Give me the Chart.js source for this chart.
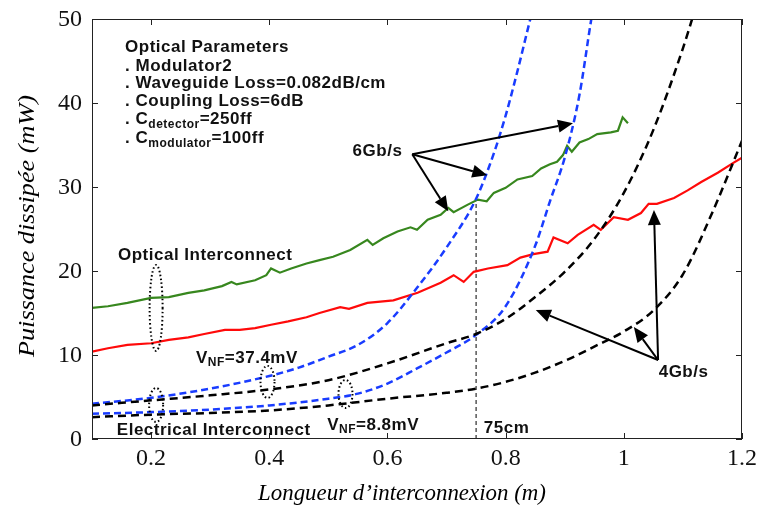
<!DOCTYPE html>
<html>
<head>
    <title>Puissance dissipée vs longueur d'interconnexion</title>
    <!-- Include Chart.js library -->
    <script src="https://cdn.jsdelivr.net/npm/chart.js@4.4.1/dist/chart.umd.min.js"></script>
    <style>
        body { margin: 0; background: #fff; }
    </style>
</head>
<body>
    <canvas id="myChart" width="758" height="506"></canvas>

    <script>
        // tick labels
        var xTicks = [0.2, 0.4, 0.6, 0.8, 1, 1.2];
        var yTicks = [0, 10, 20, 30, 40, 50];

        // optical interconnect, 6Gb/s (green, measured)
        var greenX = [0.100, 0.127, 0.160, 0.200, 0.230, 0.263, 0.290, 0.320, 0.336, 0.345, 0.376, 0.395, 0.403, 0.418, 0.437, 0.463, 0.485, 0.508, 0.537, 0.566, 0.575, 0.593, 0.617, 0.639, 0.650, 0.668, 0.690, 0.703, 0.712, 0.736, 0.753, 0.768, 0.780, 0.800, 0.820, 0.845, 0.860, 0.875, 0.887, 0.897, 0.904, 0.912, 0.925, 0.940, 0.955, 0.978, 0.990, 0.998, 1.007];
        var greenY = [15.6, 15.8, 16.2, 16.8, 16.9, 17.4, 17.7, 18.2, 18.7, 18.4, 18.9, 19.5, 20.3, 19.8, 20.3, 20.9, 21.3, 21.7, 22.5, 23.7, 23.1, 23.9, 24.7, 25.2, 24.9, 26.1, 26.7, 27.5, 27.0, 27.9, 28.5, 28.3, 29.3, 29.9, 30.9, 31.3, 32.2, 32.7, 33.0, 33.8, 34.9, 34.2, 35.3, 35.7, 36.3, 36.5, 36.7, 38.3, 37.6];

        // optical interconnect, 4Gb/s (red)
        var redX = [0.100, 0.127, 0.160, 0.200, 0.230, 0.263, 0.290, 0.325, 0.350, 0.376, 0.403, 0.432, 0.463, 0.485, 0.520, 0.535, 0.566, 0.610, 0.651, 0.690, 0.712, 0.729, 0.746, 0.770, 0.803, 0.825, 0.847, 0.871, 0.881, 0.905, 0.922, 0.949, 0.961, 0.983, 1.007, 1.029, 1.042, 1.056, 1.085, 1.108, 1.131, 1.159, 1.186, 1.200];
        var redY = [10.4, 10.8, 11.2, 11.4, 11.8, 12.1, 12.5, 13.0, 13.0, 13.2, 13.6, 14.0, 14.5, 15.0, 15.7, 15.5, 16.2, 16.5, 17.4, 18.6, 19.5, 18.7, 19.9, 20.3, 20.7, 21.6, 22.0, 22.3, 24.0, 23.3, 24.3, 25.5, 24.9, 26.4, 26.1, 26.9, 28.0, 28.0, 28.7, 29.6, 30.6, 31.7, 32.9, 33.5];

        // electrical interconnect, 6Gb/s (blue dashed), VNF=37.4mV and VNF=8.8mV
        var blueHiX = [0.10, 0.20, 0.30, 0.40, 0.45, 0.50, 0.55, 0.60, 0.65, 0.70, 0.75, 0.78, 0.80, 0.82, 0.84, 0.86];
        var blueHiY = [4.2, 4.9, 6.0, 7.5, 8.5, 9.8, 11.2, 13.8, 18.0, 22.8, 28.6, 34.0, 38.5, 43.8, 49.5, 55.0];
        var blueLoX = [0.10, 0.20, 0.30, 0.40, 0.50, 0.55, 0.60, 0.65, 0.70, 0.75, 0.80, 0.85, 0.875, 0.90, 0.925, 0.945, 0.96];
        var blueLoY = [3.0, 3.2, 3.5, 4.0, 4.8, 5.4, 6.6, 8.4, 10.3, 12.4, 15.8, 23.0, 28.3, 33.5, 41.0, 50.0, 56.0];

        // electrical interconnect, 4Gb/s (black dashed), VNF=37.4mV and VNF=8.8mV
        var blackHiX = [0.10, 0.20, 0.30, 0.40, 0.50, 0.60, 0.70, 0.75, 0.80, 0.85, 0.90, 0.95, 1.00, 1.05, 1.10, 1.12];
        var blackHiY = [4.0, 4.6, 5.2, 5.9, 7.0, 9.0, 11.4, 12.5, 14.3, 16.9, 19.9, 23.8, 29.3, 36.8, 46.5, 51.0];
        var blackLoX = [0.10, 0.20, 0.30, 0.40, 0.50, 0.60, 0.70, 0.75, 0.80, 0.85, 0.90, 0.95, 1.00, 1.05, 1.10, 1.15, 1.20];
        var blackLoY = [2.6, 2.9, 3.1, 3.4, 4.0, 4.8, 5.5, 6.0, 6.8, 7.9, 9.3, 11.0, 12.8, 15.3, 19.6, 27.0, 35.5];

        // 75cm marker
        var markX = [0.75, 0.75];
        var markY = [0, 28.5];

        function pairs(xs, ys) {
            return xs.map(function (x, i) { return { x: x, y: ys[i] }; });
        }

        // text notes (parts with sub:true are subscripts), anchored in data units
        var notes = [
            { x: 0.156, y: 46.6, parts: [{ t: 'Optical Parameters' }] },
            { x: 0.156, y: 44.4, parts: [{ t: '. Modulator2' }] },
            { x: 0.156, y: 42.3, parts: [{ t: '. Waveguide Loss=0.082dB/cm' }] },
            { x: 0.156, y: 40.2, parts: [{ t: '. Coupling Loss=6dB' }] },
            { x: 0.156, y: 38.0, parts: [{ t: '. C' }, { t: 'detector', sub: true }, { t: '=250ff' }] },
            { x: 0.156, y: 35.8, parts: [{ t: '. C' }, { t: 'modulator', sub: true }, { t: '=100ff' }] },
            { x: 0.541, y: 34.2, parts: [{ t: '6Gb/s' }] },
            { x: 0.144, y: 21.9, parts: [{ t: 'Optical Interconnect' }] },
            { x: 0.276, y: 9.64, parts: [{ t: 'V' }, { t: 'NF', sub: true }, { t: '=37.4mV' }] },
            { x: 0.498, y: 1.67, parts: [{ t: 'V' }, { t: 'NF', sub: true }, { t: '=8.8mV' }] },
            { x: 0.142, y: 1.07, parts: [{ t: 'Electrical Interconnect' }] },
            { x: 0.763, y: 1.31, parts: [{ t: '75cm' }] },
            { x: 1.059, y: 7.98, parts: [{ t: '4Gb/s' }] }
        ];

        var arrows = [
            { from: [0.642, 33.9], to: [[0.914, 37.6], [0.769, 31.4], [0.703, 27.1]] },
            { from: [1.058, 9.4], to: [[0.851, 15.36], [1.017, 13.33], [1.051, 27.26]] }
        ];

        var ellipses = [
            { x: 0.2085, y: 15.6, rx: 6.5, ry: 43 },
            { x: 0.397, y: 6.8, rx: 7, ry: 16 },
            { x: 0.2085, y: 4.05, rx: 7, ry: 17 },
            { x: 0.529, y: 5.36, rx: 7, ry: 14 }
        ];

        var serif = '"Liberation Serif", "DejaVu Serif", serif';
        var sans = '"Liberation Sans", Arial, sans-serif';

        function drawParts(ctx, parts, x, y) {
            ctx.textBaseline = 'middle';
            ctx.textAlign = 'left';
            ctx.letterSpacing = '0.5px';
            parts.forEach(function (p) {
                if (p.sub) {
                    ctx.font = 'bold 12px ' + sans;
                    ctx.fillText(p.t, x, y + 5);
                } else {
                    ctx.font = 'bold 17px ' + sans;
                    ctx.fillText(p.t, x, y);
                }
                x += ctx.measureText(p.t).width;
            });
            ctx.letterSpacing = '0px';
        }

        // draw text stretched to a given width (the original uses a wide serif)
        function fitText(ctx, text, x, y, width) {
            var w = ctx.measureText(text).width;
            ctx.save();
            ctx.translate(x, y);
            ctx.scale(width / w, 1);
            ctx.fillText(text, 0, 0);
            ctx.restore();
        }

        function drawArrow(ctx, x1, y1, x2, y2) {
            var a = Math.atan2(y2 - y1, x2 - x1);
            var hl = 15, hw = 6.5;
            var bx = x2 - hl * Math.cos(a), by = y2 - hl * Math.sin(a);
            ctx.beginPath();
            ctx.moveTo(x1, y1);
            ctx.lineTo(bx, by);
            ctx.stroke();
            ctx.beginPath();
            ctx.moveTo(x2, y2);
            ctx.lineTo(bx + hw * Math.sin(a), by - hw * Math.cos(a));
            ctx.lineTo(bx - hw * Math.sin(a), by + hw * Math.cos(a));
            ctx.closePath();
            ctx.fill();
        }

        var decorations = {
            id: 'decorations',
            afterDatasetsDraw: function (chart) {
                var ctx = chart.ctx;
                var xs = chart.scales.x, ys = chart.scales.y;
                var ca = chart.chartArea;
                ctx.save();

                // box and inward ticks (matlab style)
                ctx.strokeStyle = '#222';
                ctx.lineWidth = 1;
                ctx.setLineDash([]);
                ctx.strokeRect(ca.left + 0.5, ca.top + 0.5, ca.right - ca.left - 1, ca.bottom - ca.top - 1);
                ctx.beginPath();
                xTicks.forEach(function (v) {
                    var px = Math.round(xs.getPixelForValue(v)) + 0.5;
                    ctx.moveTo(px, ca.bottom); ctx.lineTo(px, ca.bottom - 6);
                    ctx.moveTo(px, ca.top); ctx.lineTo(px, ca.top + 6);
                });
                yTicks.forEach(function (v) {
                    var py = Math.round(ys.getPixelForValue(v)) + 0.5;
                    ctx.moveTo(ca.left, py); ctx.lineTo(ca.left + 6, py);
                    ctx.moveTo(ca.right, py); ctx.lineTo(ca.right - 6, py);
                });
                ctx.stroke();

                // tick labels
                ctx.fillStyle = '#111';
                ctx.font = '24px ' + serif;
                ctx.textBaseline = 'middle';
                ctx.textAlign = 'center';
                xTicks.forEach(function (v) {
                    ctx.fillText(String(v), xs.getPixelForValue(v), ca.bottom + 20);
                });
                ctx.textAlign = 'right';
                yTicks.forEach(function (v) {
                    ctx.fillText(String(v), ca.left - 10, ys.getPixelForValue(v) + 1);
                });

                // dotted ellipses
                ctx.strokeStyle = '#000';
                ctx.lineWidth = 2;
                ctx.setLineDash([1.5, 2.5]);
                ellipses.forEach(function (e) {
                    ctx.beginPath();
                    ctx.ellipse(xs.getPixelForValue(e.x), ys.getPixelForValue(e.y), e.rx, e.ry, 0, 0, Math.PI * 2);
                    ctx.stroke();
                });

                // arrows
                ctx.setLineDash([]);
                ctx.lineWidth = 2;
                ctx.fillStyle = '#000';
                arrows.forEach(function (a) {
                    var fx = xs.getPixelForValue(a.from[0]), fy = ys.getPixelForValue(a.from[1]);
                    a.to.forEach(function (t) {
                        drawArrow(ctx, fx, fy, xs.getPixelForValue(t[0]), ys.getPixelForValue(t[1]));
                    });
                });

                // notes
                ctx.fillStyle = '#111';
                notes.forEach(function (n) {
                    drawParts(ctx, n.parts, xs.getPixelForValue(n.x), ys.getPixelForValue(n.y));
                });

                // axis titles
                ctx.fillStyle = '#000';
                ctx.font = 'italic 23px ' + serif;
                ctx.textAlign = 'center';
                ctx.textBaseline = 'middle';
                fitText(ctx, "Longueur d\u2019interconnexion (m)", 402, 494, 288);
                ctx.translate(28, 226);
                ctx.rotate(-Math.PI / 2);
                fitText(ctx, 'Puissance dissipée (mW)', 0, 0, 262);
                ctx.restore();
            }
        };

        function curve(xs, ys, color, dash) {
            return {
                data: pairs(xs, ys),
                borderColor: color,
                borderWidth: 2.5,
                borderDash: dash,
                pointRadius: 0,
                fill: false,
                cubicInterpolationMode: 'monotone'
            };
        }

        function wiggle(xs, ys, color) {
            return {
                data: pairs(xs, ys),
                borderColor: color,
                borderWidth: 2.2,
                pointRadius: 0,
                fill: false,
                tension: 0
            };
        }

        var ctx = document.getElementById('myChart').getContext('2d');
        var myChart = new Chart(ctx, {
            type: 'line',
            data: {
                datasets: [
                    curve(blackLoX, blackLoY, '#000', [8, 5]),
                    curve(blackHiX, blackHiY, '#000', [8, 5]),
                    curve(blueLoX, blueLoY, 'rgb(25,60,255)', [7, 4]),
                    curve(blueHiX, blueHiY, 'rgb(25,60,255)', [7, 4]),
                    wiggle(redX, redY, 'rgb(255,10,10)'),
                    wiggle(greenX, greenY, 'rgb(55,135,30)'),
                    {
                        data: pairs(markX, markY),
                        borderColor: '#000',
                        borderWidth: 1,
                        borderDash: [4, 3],
                        pointRadius: 0,
                        fill: false
                    }
                ]
            },
            options: {
                responsive: false,
                animation: false,
                devicePixelRatio: 1,
                layout: { padding: { top: 19, right: 16, left: 0, bottom: 0 } },
                plugins: { legend: { display: false }, tooltip: { enabled: false } },
                scales: {
                    x: {
                        type: 'linear',
                        min: 0.1,
                        max: 1.2,
                        afterBuildTicks: function (s) { s.ticks = xTicks.map(function (v) { return { value: v }; }); },
                        afterFit: function (s) { s.height = 67; },
                        grid: { display: false, drawTicks: false },
                        border: { display: false },
                        ticks: { display: false }
                    },
                    y: {
                        min: 0,
                        max: 50,
                        afterBuildTicks: function (s) { s.ticks = yTicks.map(function (v) { return { value: v }; }); },
                        afterFit: function (s) { s.width = 92; },
                        grid: { display: false, drawTicks: false },
                        border: { display: false },
                        ticks: { display: false }
                    }
                }
            },
            plugins: [decorations]
        });
    </script>
</body>
</html>
